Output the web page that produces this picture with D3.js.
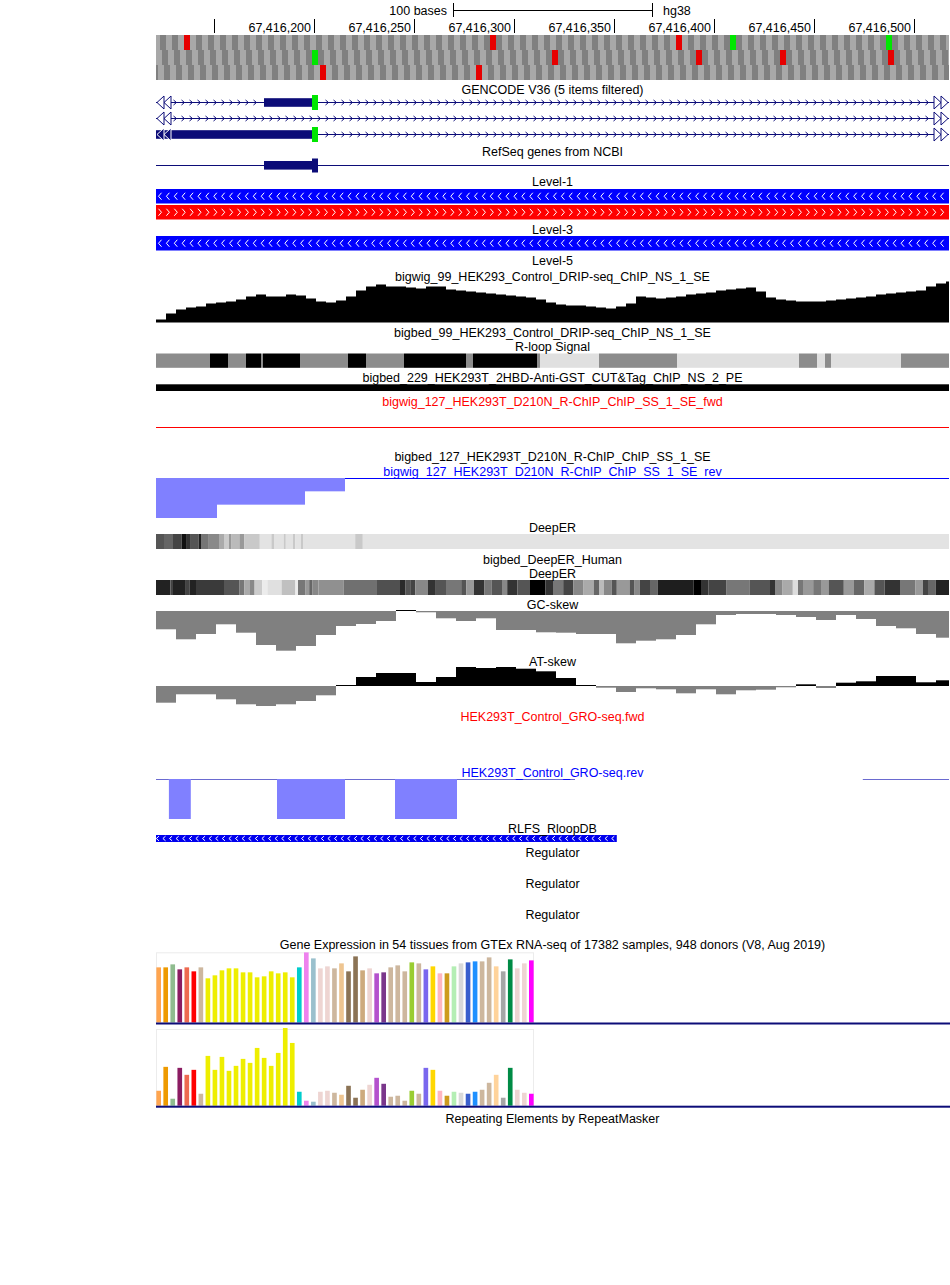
<!DOCTYPE html>
<html><head><meta charset="utf-8">
<script src="https://cdn.jsdelivr.net/npm/d3@7"></script>
<style>
body{margin:0;background:#fff}
svg{display:block}
text{font-family:"Liberation Sans",Arial,Helvetica,sans-serif;font-size:12.5px}
</style>
</head><body>
<svg id="c" width="950" height="1285"></svg>
<script>
// ---------------- DATA ----------------
const regionStart = 67416121;
const regionEnd = 67416517.5;
const rulerTicks = [67416150,67416200,67416250,67416300,67416350,67416400,67416450,67416500];
const rulerLabelled = [67416200,67416250,67416300,67416350,67416400,67416450,67416500];
const scaleBarStart = 67416269.5;
const scaleBarBases = 100;
const assembly = "hg38";

// three-frame translation: special codons (start base of codon)
const stopCodons = [[67416135,67416288,67416381],[67416319,67416391,67416433,67416487],[67416203,67416281]];
const metCodons = [[67416408,67416486],[67416199],[]];

// GENCODE transcripts (UTR block, start codon block); null = intron only in view
const gencodeUTR = [[67416175,67416199], null, [67416100,67416199]];
const gencodeCodon = [[67416199,67416202], null, [67416199,67416202]];
const refseqUTR = [67416175,67416199];
const refseqCDS = [67416199,67416202];

// Level tracks strands
const level1Strands = ["-","+"];
const level3Strands = ["-"];

// DRIP-seq bigwig, 5-base bins from regionStart
const dripBin = 5;
const dripSignal = [3,9,13,15,16,19,20,21,23,26,28,26,26,28,27,24,21,20,22,26,32,36,38,36,36,35,34,36,36,33,32,31,30,29,28,27,26,25,23,20,18,17,17,16,15,14,16,19,26,25,24,25,26,28,29,30,32,33,34,35,31,25,23,22,21,21,21,22,23,24,25,26,28,29,30,31,32,36,39,41];

// R-loop Signal segments (offsets from 67416000), level 1 low, 2 mid, 3 high
const rloopBounds = [121,148,157,166,173.5,174.5,193,217,226,245,276,279.5,311.5,313,342.5,381.5,442.5,451.5,455.5,458.5,493.5,518];
const rloopLevel = [2,3,2,3,2,3,2,3,2,3,2,3,2,1,2,1,2,1,2,1,2];

// R-ChIP rev strand (offsets from regionStart)
const rchipRevStart = [0,30.5,74.5,94.5];
const rchipRevEnd = [30.5,74.5,94.5,396.5];
const rchipRevValue = [3,2,1,0];

// DeepER (offsets from regionStart), scores 0-1000
const deeper1Start = [0,4,8.5,12.8,15.4,17.4,21.3,22.5,26.4,31.5,34,36.5,37.8,41.7,44.2,51.9,57.7,59,63.9,64.9,68.5,69.7,72.5,73.5,99.6,103.4];
const deeper1Score = [640,570,710,930,780,640,860,500,420,280,140,350,210,350,150,40,150,40,150,40,150,40,150,40,150,40];
const deeper2Start = [0,7.2,8.5,14.9,16.9,20,34,41.6,44.2,46.7,49.3,53.1,55.7,62.8,69.7,71,74.8,76.6,78.1,81.2,93.9,110.5,122,124.6,127.1,129.7,136,139.9,145,152.6,155.2,159,164.1,167.9,173,175.6,180.7,187,194.7,198.5,203.6,208.7,213.8,218.9,221.5,224,227.9,230.4,236.8,239.3,241.9,247,250.8,268.7,272.5,276.3,285.3,296.7,307,309.5,313.3,318.4,321,323.5,328.6,332.5,336.3,343.9,349,354.1,359.2,364.3,372,379.6,383.5,386,389.9];
const deeper2Score = [856,712,856,712,856,754,640,496,280,424,136,0,51,186,0,496,352,568,424,390,525,661,822,640,712,424,784,640,496,640,352,784,496,640,424,784,640,1000,784,496,712,424,280,568,208,424,640,352,640,424,712,568,873,1000,784,712,496,640,784,424,280,64,496,352,496,352,640,352,568,280,640,784,496,352,712,568,856];

// skews, 10-base bins
const skewBin = 10;
const gcSkew = [-0.183,-0.283,-0.23,-0.133,-0.217,-0.34,-0.397,-0.35,-0.24,-0.15,-0.13,-0.1,0.005,-0.013,-0.073,-0.1,-0.073,-0.19,-0.19,-0.213,-0.217,-0.23,-0.23,-0.323,-0.297,-0.283,-0.24,-0.133,-0.04,-0.03,-0.03,-0.04,-0.06,-0.09,-0.04,-0.08,-0.15,-0.173,-0.23,-0.267];
const atSkew = [-0.167,-0.083,-0.083,-0.133,-0.183,-0.21,-0.183,-0.15,-0.093,0.003,0.09,0.13,0.13,0.04,0.09,0.19,0.18,0.19,0.173,0.147,0.08,0.003,-0.017,-0.06,-0.023,-0.033,-0.073,-0.033,-0.083,-0.043,-0.037,-0.013,0.017,-0.02,0.033,0.047,0.1,0.1,0.037,0.057];

// GRO-seq rev (offsets from regionStart)
const groRevStart = [0,6.45,17.4,60.5,94.5,119.5,150.5,353.4];
const groRevEnd = [6.45,17.4,60.5,94.5,119.5,150.5,209.5,396.5];
const groRevValue = [0,1,0,1,0,1,0,0];

// RLFS
const rlfsStart = 67416100, rlfsEnd = 67416351.4, rlfsStrand = "-";

// GTEx
const tissues = ["Adipose - Subcutaneous","Adipose - Visceral","Adrenal Gland","Artery - Aorta","Artery - Coronary","Artery - Tibial","Bladder","Brain - Amygdala","Brain - Anterior cingulate cortex","Brain - Caudate","Brain - Cerebellar Hemisphere","Brain - Cerebellum","Brain - Cortex","Brain - Frontal Cortex","Brain - Hippocampus","Brain - Hypothalamus","Brain - Nucleus accumbens","Brain - Putamen","Brain - Spinal cord","Brain - Substantia nigra","Breast","Cells - EBV lymphocytes","Cells - Cultured fibroblasts","Cervix - Ectocervix","Cervix - Endocervix","Colon - Sigmoid","Colon - Transverse","Esophagus - GE Junction","Esophagus - Mucosa","Esophagus - Muscularis","Fallopian Tube","Heart - Atrial Appendage","Heart - Left Ventricle","Kidney - Cortex","Kidney - Medulla","Liver","Lung","Minor Salivary Gland","Muscle - Skeletal","Nerve - Tibial","Ovary","Pancreas","Pituitary","Prostate","Skin - Not Sun Exposed","Skin - Sun Exposed","Small Intestine","Spleen","Stomach","Testis","Thyroid","Uterus","Vagina","Whole Blood"];
const tissueColors = ["#FFA54F","#EE9A00","#8FBC8F","#8B1C62","#EE6A50","#FF0000","#CDB79E","#EEEE00","#EEEE00","#EEEE00","#EEEE00","#EEEE00","#EEEE00","#EEEE00","#EEEE00","#EEEE00","#EEEE00","#EEEE00","#EEEE00","#EEEE00","#00CDCD","#EE82EE","#9AC0CD","#EED5D2","#EED5D2","#CDB79E","#EEC591","#8B7355","#8B7355","#CDAA7D","#EED5D2","#B452CD","#7A378B","#CDB79E","#CDB79E","#CDB79E","#9ACD32","#CDB79E","#7A67EE","#FFD700","#FFB6C1","#CD9B1D","#B4EEB4","#D9D9D9","#3A5FCD","#1E90FF","#CDB79E","#CDB79E","#FFD39B","#A6A6A6","#008B45","#EED5D2","#EED5D2","#FF00FF"];
const gtexTop = [55.3,55.3,58.3,53.3,55.3,51.3,55.3,44.3,47.3,52.3,54.3,54.3,50.3,50.3,45.3,46.3,51.3,49.3,50.3,45.3,55.3,70.3,64.3,54.3,56.3,54.3,59.3,51.3,66.3,52.3,54.3,49.3,50.3,55.3,57.3,51.3,60.3,59.3,53.3,56.3,49.3,49.3,56.3,59.3,60.3,61.3,61.3,65.3,56.3,51.3,63.3,54.3,59.3,62.3];
const gtexBottom = [15,39,7,38,31,36,12,50,36,49,35,40,47,43,58,48,40,53,78,63,14,5,4,14,15,13,11,20,8,16,21,28,22,9,10,5,15,12,38,36,15,10,14,13,12,14,16,23,31,8,38,16,13,12];

// ---------------- DRAW ----------------
const X0 = 156, X1 = 949;
const x = d3.scaleLinear().domain([regionStart, regionEnd]).range([X0, X1]);
const midX = (X0 + X1) / 2;
const NAVY = "#0c0c78";
const svg = d3.select("#c");
svg.append("defs").append("clipPath").attr("id","clip").append("rect")
  .attr("x",X0).attr("y",0).attr("width",X1-X0).attr("height",1285);
const g = svg.append("g").attr("clip-path","url(#clip)");

function label(y, t, color){
  svg.append("text").attr("x",midX).attr("y",y).attr("dy","0.36em")
    .attr("text-anchor","middle").attr("fill",color||"#000").text(t);
}

// ruler
svg.append("text").attr("x",447).attr("y",10).attr("dy","0.36em").attr("text-anchor","end").text(scaleBarBases+" bases");
const sb0 = x(scaleBarStart), sb1 = x(scaleBarStart+scaleBarBases);
svg.append("path").attr("d",`M${sb0+0.5},3V17M${sb0},10.5H${sb1}M${sb1-0.5},3V17`).attr("stroke","#000").attr("fill","none");
svg.append("text").attr("x",sb1+10).attr("y",10).attr("dy","0.36em").text(assembly);
rulerTicks.forEach(t=>{
  const tx = Math.round(x(t))+0.5;
  svg.append("line").attr("x1",tx).attr("x2",tx).attr("y1",19).attr("y2",33).attr("stroke","#000");
});
rulerLabelled.forEach(t=>{
  svg.append("text").attr("x",x(t)-3).attr("y",27).attr("dy","0.36em").attr("text-anchor","end").text(d3.format(",")(t));
});

// codon rows
[0,1,2].forEach(f=>{
  const y0 = 35 + f*15;
  let b0 = Math.floor(regionStart) - 3;
  while (((b0 % 3)+3)%3 !== f) b0++;
  const starts = d3.range(b0, regionEnd+3, 3);
  g.selectAll(null).data(starts).enter().append("rect")
    .attr("x",d=>x(d)).attr("y",y0).attr("width",x(regionStart+3)-x(regionStart)).attr("height",15)
    .attr("fill",d=>{
      if (stopCodons[f].includes(d)) return "#e60000";
      if (metCodons[f].includes(d)) return "#00e600";
      return (Math.floor(d/3)%2===0) ? "#a8a8a8" : "#808080";
    });
});

// GENCODE
label(89, "GENCODE V36 (5 items filtered)");
const gcRows = [102.5, 118.5, 134.5];
function chevronPath(xs, yc, dir, hw, hh){
  const p = d3.path();
  xs.forEach(c=>{ p.moveTo(c-dir*hw, yc-hh); p.lineTo(c+dir*hw, yc); p.lineTo(c-dir*hw, yc+hh); });
  return p.toString();
}
gcRows.forEach((yc,i)=>{
  g.append("line").attr("x1",X0).attr("x2",X1).attr("y1",yc).attr("y2",yc).attr("stroke",NAVY);
  const utr = gencodeUTR[i], cod = gencodeCodon[i];
  let xs = d3.range(175, 932, 8);
  if (utr) xs = xs.filter(c=> c < x(utr[0])-3 || c > x(cod[1])+3);
  g.append("path").attr("d",chevronPath(xs, yc, 1, 1.5, 2.5)).attr("stroke",NAVY).attr("fill","none");
  if (utr){
    g.append("rect").attr("x",x(utr[0])).attr("width",x(utr[1])-x(utr[0])).attr("y",yc-4.3).attr("height",8.6).attr("fill",NAVY);
    g.append("rect").attr("x",x(cod[0])).attr("width",x(cod[1])-x(cod[0])).attr("y",yc-7.5).attr("height",15).attr("fill","#00e600");
  }
  // continuation arrows at edges
  const filled = utr && utr[0] < regionStart;
  const lp = d3.path();
  [[X0+1,X0+8],[X0+8,X0+15]].forEach(([tip,base])=>{ lp.moveTo(base,yc-6.5); lp.lineTo(tip,yc); lp.lineTo(base,yc+6.5); lp.closePath(); });
  svg.append("path").attr("d",lp.toString()).attr("fill",filled?NAVY:"#fff").attr("stroke",filled?"#fff":NAVY);
  const rp = d3.path();
  [[X1-15,X1-8],[X1-8,X1-1]].forEach(([base,tip])=>{ rp.moveTo(base,yc-6.5); rp.lineTo(tip,yc); rp.lineTo(base,yc+6.5); rp.closePath(); });
  svg.append("path").attr("d",rp.toString()).attr("fill","#fff").attr("stroke",NAVY);
});

// RefSeq
label(151.5, "RefSeq genes from NCBI");
g.append("line").attr("x1",X0).attr("x2",X1).attr("y1",165.5).attr("y2",165.5).attr("stroke",NAVY);
g.append("rect").attr("x",x(refseqUTR[0])).attr("width",x(refseqUTR[1])-x(refseqUTR[0])).attr("y",161).attr("height",8.6).attr("fill",NAVY);
g.append("rect").attr("x",x(refseqCDS[0])).attr("width",x(refseqCDS[1])-x(refseqCDS[0])).attr("y",158.5).attr("height",14).attr("fill",NAVY);

// strand bars
function strandBar(y0, h, color, strand, x0, x1, spacing, hw, hh){
  g.append("rect").attr("x",x0).attr("y",y0).attr("width",x1-x0).attr("height",h).attr("fill",color);
  const dir = strand === "+" ? 1 : -1;
  const xs = d3.range(x0+4, x1-2, spacing);
  g.append("path").attr("d",chevronPath(xs, y0+h/2, dir, hw, hh)).attr("stroke","#fff").attr("fill","none");
}
label(181.5, "Level-1");
level1Strands.forEach((s,i)=>{
  strandBar(189 + i*16, 14.5, s==="-"?"#0000ff":"#ff0000", s, X0, X1, 7.9, 1.5, 3.5);
});
label(229.5, "Level-3");
level3Strands.forEach((s,i)=>{
  strandBar(236, 14.5, s==="-"?"#0000ff":"#ff0000", s, X0, X1, 7.9, 1.5, 3.5);
});
label(260, "Level-5");

// DRIP bigwig
label(276, "bigwig_99_HEK293_Control_DRIP-seq_ChIP_NS_1_SE");
const yD = d3.scaleLinear().domain([0, 41]).range([322.5, 281.5]);
const dripPts = dripSignal.map((v,i)=>({b: regionStart + i*dripBin, v}));
dripPts.push({b: regionStart + dripSignal.length*dripBin, v: dripSignal[dripSignal.length-1]});
g.append("path").datum(dripPts)
  .attr("d", d3.area().x(d=>x(d.b)).y0(yD(0)).y1(d=>yD(d.v)).curve(d3.curveStepAfter))
  .attr("fill","#000");

// bigbed 99 + R-loop signal
label(332.7, "bigbed_99_HEK293_Control_DRIP-seq_ChIP_NS_1_SE");
label(346.7, "R-loop Signal");
const rloopColor = d3.scaleOrdinal().domain([1,2,3]).range(["#e0e0e0","#8c8c8c","#000000"]);
g.selectAll(null).data(rloopLevel).enter().append("rect")
  .attr("x",(d,i)=>x(67416000+rloopBounds[i]))
  .attr("width",(d,i)=>x(67416000+rloopBounds[i+1])-x(67416000+rloopBounds[i]))
  .attr("y",353.5).attr("height",14.3).attr("fill",d=>rloopColor(d));

// bigbed 229
label(377.3, "bigbed_229_HEK293T_2HBD-Anti-GST_CUT&Tag_ChIP_NS_2_PE");
g.append("rect").attr("x",x(regionStart)).attr("width",x(regionEnd)-x(regionStart)).attr("y",384.3).attr("height",6.7).attr("fill","#000");

// R-ChIP fwd/rev
label(401, "bigwig_127_HEK293T_D210N_R-ChIP_ChIP_SS_1_SE_fwd", "#ff0000");
g.append("line").attr("x1",x(regionStart)).attr("x2",x(regionEnd)).attr("y1",427.5).attr("y2",427.5).attr("stroke","#ff0000");
label(456.7, "bigbed_127_HEK293T_D210N_R-ChIP_ChIP_SS_1_SE");
label(471.7, "bigwig_127_HEK293T_D210N_R-ChIP_ChIP_SS_1_SE_rev", "#0000ff");
function revTrack(starts, ends, vals, y0, ys, lineColor){
  starts.forEach((s,i)=>{
    g.append("line").attr("x1",x(regionStart+s)).attr("x2",x(regionStart+ends[i])).attr("y1",y0+0.5).attr("y2",y0+0.5).attr("stroke",lineColor);
  });
  g.selectAll(null).data(vals.map((v,i)=>({s:starts[i],e:ends[i],v})).filter(d=>d.v>0)).enter().append("rect")
    .attr("x",d=>x(regionStart+d.s)).attr("width",d=>x(regionStart+d.e)-x(regionStart+d.s))
    .attr("y",y0).attr("height",d=>ys(d.v)-y0).attr("fill","#8080ff");
}
revTrack(rchipRevStart, rchipRevEnd, rchipRevValue, 478, d3.scaleLinear().domain([0,3]).range([478,518]), "#0000ff");

// DeepER
const deepColor = d3.scaleLinear().domain([0,1000]).range(["#ececec","#000000"]);
function deepTrack(starts, scores, y0){
  g.selectAll(null).data(scores).enter().append("rect")
    .attr("x",(d,i)=>x(regionStart+starts[i]))
    .attr("width",(d,i)=>x(regionStart+(i+1<starts.length?starts[i+1]:396.5))-x(regionStart+starts[i]))
    .attr("y",y0).attr("height",15).attr("fill",d=>deepColor(d));
}
label(527.3, "DeepER");
deepTrack(deeper1Start, deeper1Score, 534);
label(559.3, "bigbed_DeepER_Human");
label(573.3, "DeepER");
deepTrack(deeper2Start, deeper2Score, 580);

// skews
function skewTrack(vals, ys){
  const z = ys(0);
  g.selectAll(null).data(vals).enter().append("rect")
    .attr("x",(d,i)=>x(regionStart+i*skewBin))
    .attr("width",x(regionStart+skewBin)-x(regionStart))
    .attr("y",d=> d>=0 ? Math.min(ys(d), z-1) : z)
    .attr("height",d=> d>=0 ? Math.max(1, z-ys(d)) : ys(d)-z)
    .attr("fill",d=> d>=0 ? "#000" : "#808080");
}
label(604.3, "GC-skew");
skewTrack(gcSkew, d3.scaleLinear().domain([-0.4,0]).range([651,611]).clamp(true));
label(661, "AT-skew");
skewTrack(atSkew, d3.scaleLinear().domain([-0.2,0.2]).range([706,666]).clamp(true));

// GRO-seq
label(716.7, "HEK293T_Control_GRO-seq.fwd", "#ff0000");
label(772.7, "HEK293T_Control_GRO-seq.rev", "#0000ff");
revTrack(groRevStart, groRevEnd, groRevValue, 779, d3.scaleLinear().domain([0,1]).range([779,819]), "#6a6ad0");

// RLFS
label(828.3, "RLFS_RloopDB");
strandBar(835, 7, "#0000ee", rlfsStrand, x(rlfsStart), x(rlfsEnd), 6.6, 1.3, 2.3);

// Regulator
label(852, "Regulator");
label(883, "Regulator");
label(914, "Regulator");

// GTEx
label(944, "Gene Expression in 54 tissues from GTEx RNA-seq of 17382 samples, 948 donors (V8, Aug 2019)");
const xb = d3.scaleBand().domain(d3.range(tissues.length)).range([156, 534]).paddingInner(0.34).paddingOuter(0.05);
function gtexPanel(vals, top, base, maxV){
  const ys = d3.scaleLinear().domain([0, maxV]).range([base, top]);
  svg.append("rect").attr("x",156.5).attr("y",top+0.5).attr("width",377).attr("height",base-top).attr("fill","none").attr("stroke","#ececec");
  svg.selectAll(null).data(vals).enter().append("rect")
    .attr("x",(d,i)=>xb(i)).attr("width",xb.bandwidth())
    .attr("y",d=>ys(d)).attr("height",d=>base-ys(d))
    .attr("fill",(d,i)=>tissueColors[i]).append("title").text((d,i)=>tissues[i]);
  svg.append("rect").attr("x",X0).attr("width",X1-X0+1).attr("y",base).attr("height",2).attr("fill",NAVY);
}
gtexPanel(gtexTop, 952.3, 1022.5, 70.4);
gtexPanel(gtexBottom, 1029, 1105.7, 77);
label(1118.5, "Repeating Elements by RepeatMasker");
</script>
</body></html>
